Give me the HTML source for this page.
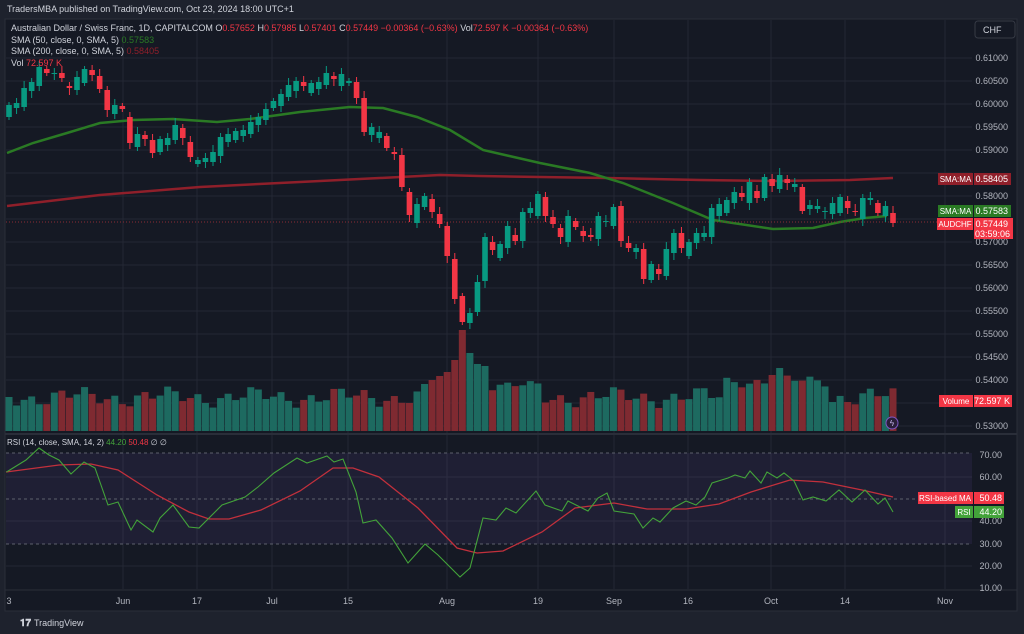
<!DOCTYPE html>
<html><head><meta charset="utf-8"><style>
html,body{margin:0;padding:0;background:#1e222d;width:1024px;height:634px;overflow:hidden}
svg{display:block;font-family:"Liberation Sans",sans-serif}
</style></head><body>
<svg id="s" width="1024" height="634" viewBox="0 0 1024 634" xmlns="http://www.w3.org/2000/svg">
<rect x="0" y="0" width="1024" height="634" fill="#1e222d"/>
<rect x="5" y="19" width="1012" height="592" fill="#151924" stroke="#2a2e39"/>
<g id="grid" stroke="#232734" stroke-width="1"></g>
<line x1="5" y1="434" x2="1017" y2="434" stroke="#2a2e39" stroke-width="2"/>
<line x1="5" y1="590" x2="1017" y2="590" stroke="#2a2e39"/>
<rect x="6" y="453" width="966" height="91" fill="#7e57c2" fill-opacity="0.1"/>
<g id="rsig" stroke="#5d606b" stroke-dasharray="3,3" stroke-width="1">
<line x1="6" y1="453" x2="972" y2="453"/><line x1="6" y1="499" x2="972" y2="499"/><line x1="6" y1="544" x2="972" y2="544"/>
</g>
<g id="vol"></g>
<polyline id="sma200" fill="none" stroke="#8f1f2a" stroke-width="2.5" points="7,206 100,195 200,187 300,182 400,177 440,175 480,176 540,177 607,178 700,180 773,181 850,180 893,178"/>
<polyline id="sma50" fill="none" stroke="#2a7a24" stroke-width="2.5" points="7,153 33,143 67,133 100,123 133,120 173,119 217,122 250,119 300,112 350,107 383,108 417,117 450,130 483,150 540,163 590,173 623,183 673,203 713,220 773,229 813,228 840,222 865,218 887,216"/>
<line x1="6" y1="222" x2="972" y2="222" stroke="#8a2a33" stroke-dasharray="1,2"/>
<g id="candles"></g>
<polyline fill="none" stroke="#c2303c" stroke-width="1.3" points="6,472 59,465 91,464 118,470 157,495 189,512 209,519 229,519 261,510 300,491 333,468 353,468 379,477 418,508 457,548 477,553 503,551 542,532 575,508 614,503 647,509 686,509 719,504 751,492 790,480 823,482 862,490 893,497"/>
<polyline fill="none" stroke="#43a33a" stroke-width="1.1" points="6.5,472 26,460 39,448 49,455 59,460 71,474 84,462 95,468 108,505 118,502 131,530 137,520 153,532 160,518 173,505 189,527 199,528 222,505 245,497 258,487 274,473 297,458 307,463 327,456 334,462 343,459 356,492 363,523 376,520 392,538 408,563 425,544 438,555 460,577 470,568 483,518 496,520 506,508 516,513 536,491 545,505 562,511 568,501 588,511 598,498 607,493 614,511 634,514 643,528 653,518 660,522 673,508 686,501 696,505 705,497 712,483 728,478 735,475 745,478 750,471 761,483 767,472 777,478 784,473 794,481 803,500 813,497 826,501 839,490 852,502 865,490 878,504 885,498 893,512"/>
<g id="axis" fill="#b2b5be" font-size="9" text-anchor="end"></g>
<g font-size="9" fill="#d1d4dc">
<text x="7" y="12" font-size="9">TradersMBA published on TradingView.com, Oct 23, 2024 18:00 UTC+1</text>
<text x="11" y="31">Australian Dollar / Swiss Franc, 1D, CAPITALCOM <tspan>O</tspan><tspan fill="#f23645">0.57652</tspan> H<tspan fill="#f23645">0.57985</tspan> L<tspan fill="#f23645">0.57401</tspan> C<tspan fill="#f23645">0.57449</tspan> <tspan fill="#f23645">−0.00364 (−0.63%)</tspan> Vol<tspan fill="#f23645">72.597 K</tspan> <tspan fill="#f23645">−0.00364 (−0.63%)</tspan></text>
<text x="11" y="43">SMA (50, close, 0, SMA, 5) <tspan fill="#2a7a24">0.57583</tspan></text>
<text x="11" y="54">SMA (200, close, 0, SMA, 5) <tspan fill="#8f1f2a">0.58405</tspan></text>
<text x="11" y="66">Vol <tspan fill="#f23645">72.597 K</tspan></text>
<text x="7" y="445" font-size="8">RSI (14, close, SMA, 14, 2) <tspan fill="#43a33a">44.20</tspan> <tspan fill="#f23645">50.48</tspan> ∅ ∅</text>
</g>
<rect x="975" y="21" width="40" height="17" rx="3" fill="#151924" stroke="#363a45"/>
<text x="983" y="33" font-size="9" fill="#d1d4dc">CHF</text>
<rect x="938" y="173" width="35" height="12" fill="#8f1f2a"/><text x="955.5" y="182" font-size="8" fill="#fff" text-anchor="middle">SMA:MA</text>
<rect x="974" y="173" width="37" height="12" fill="#8f1f2a"/><text x="1008" y="182" font-size="9" fill="#fff" text-anchor="end">0.58405</text>
<rect x="938" y="205" width="35" height="12" fill="#2a7a24"/><text x="955.5" y="214" font-size="8" fill="#fff" text-anchor="middle">SMA:MA</text>
<rect x="974" y="205" width="37" height="12" fill="#2a7a24"/><text x="1008" y="214" font-size="9" fill="#fff" text-anchor="end">0.57583</text>
<rect x="937" y="218" width="36" height="12" fill="#f23645"/><text x="955" y="227" font-size="8" fill="#fff" text-anchor="middle">AUDCHF</text>
<rect x="974" y="218" width="39" height="21" fill="#f23645"/><text x="1008" y="227" font-size="9" fill="#fff" text-anchor="end">0.57449</text><text x="1010" y="237" font-size="9" fill="#fff" text-anchor="end">03:59:06</text>
<rect x="939" y="395" width="34" height="12" fill="#f23645"/><text x="956" y="404" font-size="8" fill="#fff" text-anchor="middle">Volume</text>
<rect x="974" y="395" width="38" height="12" fill="#f23645"/><text x="1010" y="404" font-size="9" fill="#fff" text-anchor="end">72.597 K</text>
<rect x="918" y="492" width="55" height="12" fill="#f23645"/><text x="945" y="501" font-size="8" fill="#fff" text-anchor="middle">RSI-based MA</text>
<rect x="974" y="492" width="30" height="12" fill="#f23645"/><text x="1002" y="501" font-size="9" fill="#fff" text-anchor="end">50.48</text>
<rect x="955" y="506" width="18" height="12" fill="#43a33a"/><text x="964" y="515" font-size="8" fill="#fff" text-anchor="middle">RSI</text>
<rect x="974" y="506" width="30" height="12" fill="#43a33a"/><text x="1002" y="515" font-size="9" fill="#fff" text-anchor="end">44.20</text>
<circle cx="892" cy="423" r="6" fill="#2a1f3a" stroke="#7e57c2"/><text x="892" y="426" font-size="8" fill="#c9b8ef" text-anchor="middle">ϟ</text>
<g id="time" fill="#b2b5be" font-size="9" text-anchor="middle"></g>
<text x="20" y="626" font-size="10" fill="#d1d4dc" font-weight="bold">𝟏𝟕</text>
<text x="34" y="626" font-size="9" fill="#d1d4dc">TradingView</text>
</svg>
<script>
var NS="http://www.w3.org/2000/svg";
function el(p,t,a){var e=document.createElementNS(NS,t);for(var k in a)e.setAttribute(k,a[k]);document.getElementById(p).appendChild(e);return e;}
var vx=[123,197,272,348,447,538,614,688,771,845,945];
vx.forEach(function(x){el("grid","line",{x1:x,y1:20,x2:x,y2:589});});
for(var i=0;i<17;i++){var y=58+i*23;el("grid","line",{x1:6,y1:y,x2:972,y2:y});}
[477,521,566].forEach(function(y){el("grid","line",{x1:6,y1:y,x2:972,y2:y});});
var pl=["0.61000","0.60500","0.60000","0.59500","0.59000",null,"0.58000",null,"0.57000","0.56500","0.56000","0.55500","0.55000","0.54500","0.54000",null,"0.53000"];
pl.forEach(function(t,i){if(!t)return;var e=el("axis","text",{x:1008,y:58+i*23+3});e.textContent=t;});
var rl=[[70,455],[60,477],[40,521],[30,544],[20,566],[10,588]];
rl.forEach(function(r){var e=el("axis","text",{x:1002,y:r[1]+3});e.textContent=r[0].toFixed(2);});
var tl=[["3",9],["Jun",123],["17",197],["Jul",272],["15",348],["Aug",447],["19",538],["Sep",614],["16",688],["Oct",771],["14",845],["Nov",945]];
tl.forEach(function(t){var e=el("time","text",{x:t[1],y:604});e.textContent=t[0];});
var C=[[1,105,117],[1,103,108],[1,88,107],[1,82,91],[1,67,86],[0,69,73],[1,73,74],[0,73,78],[0,86,88],[1,77,90],[1,69,83],[0,70,75],[0,76,89],[0,90,110],[1,105,114],[0,106,109],[0,117,143],[1,134,147],[0,135,139],[0,140,153],[1,139,152],[1,138,145],[1,125,140],[0,128,138],[0,142,157],[1,160,164],[1,158,162],[1,152,162],[1,137,156],[1,134,142],[1,131,140],[1,130,136],[1,122,134],[1,117,125],[1,109,120],[1,101,108],[1,94,106],[1,85,97],[1,81,91],[0,82,86],[1,83,93],[1,82,89],[1,73,85],[0,76,79],[1,74,86],[1,81,83],[0,82,98],[0,98,132],[1,127,135],[1,132,138],[0,136,148],[0,152,154],[0,155,187],[0,192,215],[1,204,223],[1,196,207],[0,199,212],[0,214,224],[0,226,256],[0,259,299],[0,296,322],[1,313,323],[1,282,312],[1,237,281],[0,242,250],[1,244,258],[1,226,248],[0,235,241],[1,212,241],[1,208,213],[1,194,216],[0,197,216],[0,217,224],[0,228,237],[1,216,242],[0,221,227],[0,231,236],[0,235,237],[1,216,239],[1,221,222],[1,207,226],[0,206,241],[0,243,248],[1,248,252],[0,249,279],[1,264,280],[0,269,274],[1,249,276],[1,233,253],[0,233,248],[1,242,256],[1,233,243],[1,233,237],[1,208,237],[1,204,216],[1,200,213],[1,192,203],[0,193,197],[1,182,203],[0,191,198],[1,177,198],[0,179,186],[1,175,189],[0,179,183],[1,184,187],[0,187,211],[1,205,209],[1,206,209],[1,211,212],[1,203,214],[1,197,213],[0,201,208],[0,211,212],[1,198,219],[1,198,200],[0,203,213],[1,206,216],[0,213,223]];
var sp=(893-9)/117;
var vt=[];
for(var i=0;i<C.length;i++){
 var s=Math.sin(i*1.7)*6+Math.sin(i*0.53)*5;
 var t=397+s;
 if(i>=55&&i<=58)t=384-(i-55)*4;
 if(i==59)t=360;if(i==60)t=330;if(i==61)t=353;if(i==62)t=364;if(i==63)t=366;
 if(i>=64&&i<=70)t=386+s*0.5;
 if(i>=95&&i<=108)t=381+s*0.6;
 if(i==102)t=368;if(i==101)t=375;
 vt.push(t);
}
C.forEach(function(c,i){
 var x=9+i*sp;var col=c[0]?"#089981":"#f23645";
 var vc=c[0]?"#1d6a60":"#7f2a31";
 el("vol","rect",{x:x-3.5,y:vt[i],width:7,height:431-vt[i],fill:vc});
 var h=c[1]-3-((i*7)%5),l=c[2]+3+((i*3)%5);
 el("candles","line",{x1:x,y1:h,x2:x,y2:l,stroke:col,"stroke-width":1});
 el("candles","rect",{x:x-2.8,y:c[1],width:5.6,height:Math.max(1,c[2]-c[1]),fill:col});
});
</script>
</body></html>
